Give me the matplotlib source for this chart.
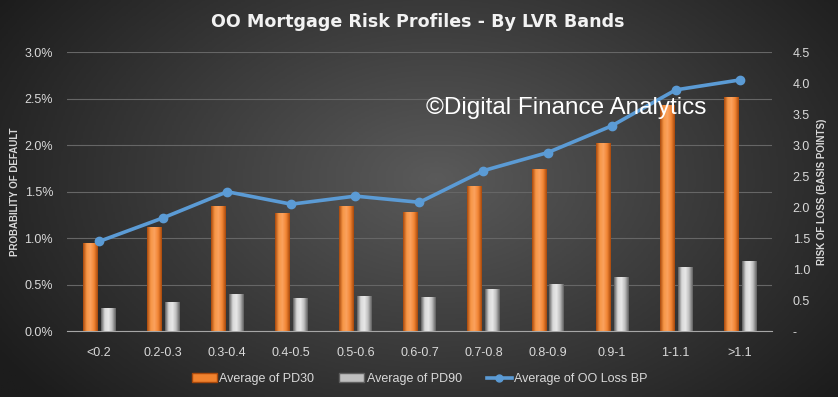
import numpy as np
import matplotlib.pyplot as plt
from matplotlib.colors import LinearSegmentedColormap
from matplotlib.lines import Line2D
from matplotlib.patches import Patch

# LVR bands and the three series
bands = ['<0.2', '0.2-0.3', '0.3-0.4', '0.4-0.5', '0.5-0.6', '0.6-0.7',
         '0.7-0.8', '0.8-0.9', '0.9-1', '1-1.1', '>1.1']
pd30 = [0.95, 1.12, 1.35, 1.27, 1.35, 1.28, 1.56, 1.74, 2.02, 2.43, 2.52]
pd90 = [0.25, 0.32, 0.40, 0.36, 0.38, 0.37, 0.46, 0.51, 0.59, 0.69, 0.76]
loss_bp = [1.45, 1.83, 2.25, 2.05, 2.18, 2.08, 2.59, 2.88, 3.31, 3.89, 4.05]

left_ticks = [0.0, 0.5, 1.0, 1.5, 2.0, 2.5, 3.0]
right_ticks = [0, 0.5, 1.0, 1.5, 2.0, 2.5, 3.0, 3.5, 4.0, 4.5]
right_labels = ['-', '0.5', '1.0', '1.5', '2.0', '2.5', '3.0', '3.5', '4.0', '4.5']

txt = '#d9d9d9'
orange = '#f0822e'
grey = '#bfbfbf'
blue = '#5b9bd5'
font = ['Liberation Sans', 'DejaVu Sans']

fig = plt.figure(figsize=(8.38, 3.97), dpi=100)

# radial dark background
bg = fig.add_axes([0, 0, 1, 1], zorder=-10)
gx, gy = np.meshgrid(np.linspace(0, 1, 400), np.linspace(0, 1, 200))
r = np.sqrt(((gx - 0.52) / 0.62) ** 2 + ((gy - 0.55) / 0.85) ** 2)
shade = np.clip(1 - r, 0, 1)
bg_cmap = LinearSegmentedColormap.from_list('bg', ['#1c1c1c', '#5a5a5a'])
bg.imshow(shade, cmap=bg_cmap, extent=[0, 1, 0, 1], origin='lower', aspect='auto', vmin=0, vmax=1)
bg.axis('off')

ax = fig.add_axes([0.080, 0.165, 0.841, 0.704])
ax.set_facecolor('none')
x = np.arange(len(bands))
w = 0.22

orange_cmap = LinearSegmentedColormap.from_list('o', ['#a9490c', '#f79646', '#fba25e', '#f28534', '#a9490c'])
grey_cmap = LinearSegmentedColormap.from_list('g', ['#5f5f5f', '#d9d9d9', '#e8e8e8', '#bdbdbd', '#5f5f5f'])

b1 = ax.bar(x - 0.14, pd30, w, color=orange, zorder=3)
b2 = ax.bar(x + 0.14, pd90, w, color=grey, zorder=3)

# cylinder-like shading on every bar
grad = np.linspace(0, 1, 64).reshape(1, -1)
for bars, cm in [(b1, orange_cmap), (b2, grey_cmap)]:
    for rect in bars:
        x0, y0 = rect.get_x(), rect.get_y()
        im = ax.imshow(grad, cmap=cm, aspect='auto', zorder=4,
                       extent=[x0, x0 + rect.get_width(), y0, y0 + rect.get_height()])
        im.set_clip_path(rect)

ax.set_xlim(-0.5, len(bands) - 0.5)
ax.set_ylim(0, 3.0)
ax.set_yticks(left_ticks)
ax.set_yticklabels(['%.1f%%' % t for t in left_ticks])
ax.set_xticks(x)
ax.set_xticklabels(bands)
ax.grid(axis='y', color='#666666', lw=0.8, zorder=0)
ax.set_axisbelow(True)
for s in ['top', 'right', 'left']:
    ax.spines[s].set_visible(False)
ax.spines['bottom'].set_color('#a6a6a6')
ax.tick_params(axis='both', length=0, colors=txt, labelsize=9)
ax.tick_params(axis='y', pad=10)
ax.tick_params(axis='x', pad=11)
for lb in ax.get_xticklabels() + ax.get_yticklabels():
    lb.set_family(font)
ax.set_ylabel('PROBABILITY OF DEFAULT', color=txt, fontsize=7, fontweight='bold', family=font)
ax.yaxis.set_label_coords(-0.067, 0.5)

ax2 = ax.twinx()
ax2.plot(x, loss_bp, color=blue, lw=2.6, marker='o', ms=6, zorder=5)
ax2.set_ylim(0, 4.5)
ax2.set_yticks(right_ticks)
ax2.set_yticklabels(right_labels)
for s in ax2.spines.values():
    s.set_visible(False)
ax2.tick_params(axis='y', length=0, colors=txt, labelsize=9, pad=15)
for lb in ax2.get_yticklabels():
    lb.set_family(font)
ax2.set_ylabel('RISK OF LOSS (BASIS POINTS)', color=txt, fontsize=7, fontweight='bold', family=font)
ax2.yaxis.set_label_position('right')
ax2.yaxis.label.set_rotation(90)
ax2.yaxis.set_label_coords(1.064, 0.5)

fig.text(0.499, 0.945, 'OO Mortgage Risk Profiles - By LVR Bands', ha='center', va='center',
         color='#f2f2f2', fontsize=12.6, fontweight='bold', family=['DejaVu Sans'])

fig.text(0.6755, 0.728, '\u00a9Digital Finance Analytics', ha='center', va='center',
         color='white', fontsize=17.5, family=font, zorder=20)

handles = [Patch(facecolor=orange, edgecolor='#a9490c'),
           Patch(facecolor=grey, edgecolor='#5f5f5f'),
           Line2D([0], [0], color=blue, lw=2.6, marker='o', ms=5)]
labels = ['Average of PD30', 'Average of PD90', 'Average of OO Loss BP']
leg = fig.legend(handles, labels, loc='center', bbox_to_anchor=(0.501, 0.045), ncol=3,
                 frameon=False, handlelength=2.0, handletextpad=0.2, columnspacing=2.0,
                 prop={'family': font, 'size': 9})
for t in leg.get_texts():
    t.set_color(txt)

fig.savefig('out.png', dpi=100)
